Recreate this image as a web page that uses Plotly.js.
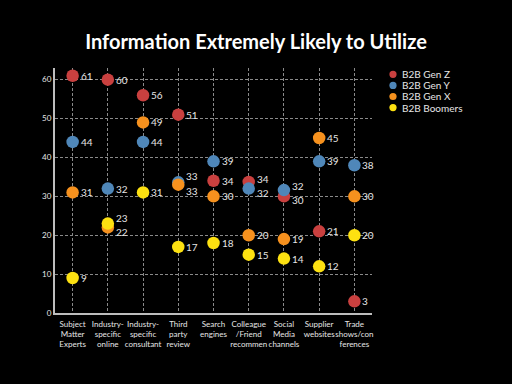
<!DOCTYPE html>
<html><head><meta charset="utf-8">
<script src="https://cdn.plot.ly/plotly-3.0.1.min.js"></script>
<style>body{margin:0;background:#000}#c{width:512px;height:384px}</style>
</head><body><div id="c"></div>
<script>
const categories = ["Subject Matter Experts","Industry-specific online","Industry-specific consultant","Third party review","Search engines","Colleague /Friend recommen","Social Media channels","Supplier websites","Trade shows/conferences"];
const tickLabels = ["Subject<br>Matter<br>Experts","Industry-<br>specific<br>online","Industry-<br>specific<br>consultant","Third<br>party<br>review","Search<br>engines","Colleague<br>/Friend<br>recommen","Social<br>Media<br>channels","Supplier<br>websites","Trade<br>shows/con<br>ferences"];
const seriesNames = ["B2B Gen Z","B2B Gen Y","B2B Gen X","B2B Boomers"];
const genZ = [61,60,56,51,34,33.7,30,21,3];
const genY = [44,32,44,33.6,39,32,31.6,39,38];
const genX = [31,22,49,33,30,20,19,45,30];
const boomers = [9,23,31,17,18,15,14,12,20];
const genZLabels = [61,60,56,51,34,34,30,21,3];
const genYLabels = [44,32,44,33,39,32,32,39,38];
const genXLabels = [31,22,49,33,30,20,19,45,30];
const boomerLabels = [9,23,31,17,18,15,14,12,20];

const colors = ["#c9403f","#4f87b9","#f6911e","#fde111"];
// vertical label offsets (px) for overlapping points
const labelShift = [
  [0,0,0,0,0,3,-4,0,0],
  [0,0,0,6,0,-4,4,0,0],
  [0,-5,0,-6,0,0,0,0,0],
  [0,6,0,0,0,0,0,0,0]
];
const allY = [genZ, genY, genX, boomers];
const allT = [genZLabels, genYLabels, genXLabels, boomerLabels];
const traces = allY.map((ys,i)=>({
  type:"scatter", mode:"markers", name:seriesNames[i],
  x:categories, y:ys,
  marker:{color:colors[i], size:12.5, line:{width:0}},
  cliponaxis:false, hoverinfo:"none", showlegend:false
}));

const annotations = [];
allY.forEach((ys,i)=>{
  ys.forEach((v,j)=>{
    annotations.push({x:categories[j], y:v, xref:"x", yref:"y", text:String(allT[i][j]),
      showarrow:false, xanchor:"left", yanchor:"middle", xshift:6, yshift:labelShift[i][j],
      font:{family:"Lato, sans-serif", size:10, color:"#e6e6e6"}});
  });
});
// custom compact legend
const shapes = [];
const legX = (393-55)/317;
seriesNames.forEach((n,i)=>{
  const yc = 74.3 + i*11.1;
  const yp = 1 - (yc-68)/245;
  shapes.push({type:"circle", xref:"paper", yref:"paper", xsizemode:"pixel", ysizemode:"pixel",
    xanchor:legX, yanchor:yp, x0:-3.6, x1:3.6, y0:-3.6, y1:3.6,
    fillcolor:colors[i], line:{width:0}});
  annotations.push({xref:"paper", yref:"paper", x:legX, y:yp, xshift:7, text:n,
    showarrow:false, xanchor:"left", yanchor:"middle",
    font:{family:"Lato, sans-serif", size:10, color:"#e6e6e6"}});
});

const layout = {
  width:512, height:384,
  paper_bgcolor:"#000", plot_bgcolor:"#000",
  margin:{l:55, r:140, t:68, b:71},
  title:{text:"<b>Information Extremely Likely to Utilize</b>", font:{family:"Lato, sans-serif", size:20, color:"#fff"}, x:0.5, xanchor:"center", y:0.89, yanchor:"middle"},
  xaxis:{type:"category", tickvals:categories, ticktext:tickLabels, range:[-0.5,8.5], tickangle:0,
    showgrid:true, gridcolor:"#8a8a8a", griddash:"3px,2px", gridwidth:1,
    showline:true, linecolor:"#bdbdbd", linewidth:2,
    ticks:"", ticklabelstandoff:2, tickfont:{family:"Lato, sans-serif", size:8, color:"#e6e6e6"}, fixedrange:true},
  yaxis:{range:[0,63], tickvals:[0,10,20,30,40,50,60], showgrid:true, gridcolor:"#8a8a8a", griddash:"3px,2px", gridwidth:1,
    showline:true, linecolor:"#bdbdbd", linewidth:2, zeroline:false,
    ticks:"", tickfont:{family:"Lato, sans-serif", size:8, color:"#e6e6e6"}, fixedrange:true},
  showlegend:false,
  annotations:annotations,
  shapes:shapes
};
Plotly.newPlot("c", traces, layout, {staticPlot:true, displayModeBar:false});
</script></body></html>
